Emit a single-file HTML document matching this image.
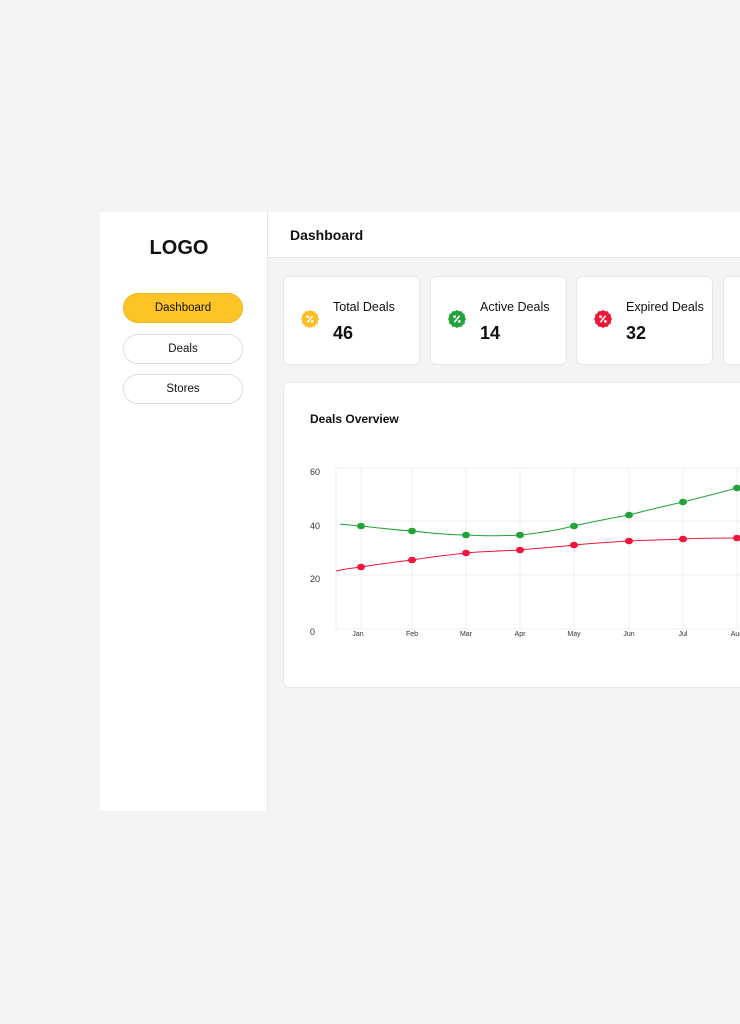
<!DOCTYPE html>
<html><head><meta charset="utf-8"><style>
*{box-sizing:border-box;margin:0;padding:0}
body{width:740px;height:1024px;background:#f3f4f6;font-family:"Liberation Sans",sans-serif;position:relative;overflow:hidden;color:#111}
.side{position:absolute;left:100px;top:212px;width:168px;height:599px;background:#fff;border-right:1px solid #e5e5e5}
.logo{position:absolute;left:0;width:158px;top:25px;text-align:center;font-weight:bold;font-size:20px}
.btn{position:absolute;left:23px;width:120px;height:30px;border-radius:15px;border:1px solid #ddd;font-size:11.5px;text-align:center;line-height:28px;background:#fff}
.head{position:absolute;left:268px;top:212px;width:472px;height:46px;background:#fff;border-bottom:1px solid #e6e6e6}
.head span{position:absolute;left:22px;top:15px;font-size:14px;font-weight:bold}
.card{position:absolute;top:276px;width:137px;height:89px;background:#fff;border:1px solid #e8e8e8;border-radius:6px}
.card .t{position:absolute;left:49px;top:23px;font-size:12.5px}
.card .n{position:absolute;left:49px;top:46px;font-size:18px;font-weight:bold}
.card svg{position:absolute;left:16px;top:32px}
.chart{position:absolute;left:283px;top:382px;width:470px;height:306px;background:#fff;border:1px solid #e8e8e8;border-radius:6px}
</style></head><body>
<div class="side">
<div class="logo">LOGO</div>
<div class="btn" style="top:81px;background:#fcc424;border-color:#f0b820">Dashboard</div>
<div class="btn" style="top:122px">Deals</div>
<div class="btn" style="top:162px">Stores</div>
</div>
<div class="head"><span>Dashboard</span></div>
<svg width="0" height="0" style="position:absolute"><defs>
<g id="b"><circle cx="10" cy="10" r="8.3"/><rect x="3.5" y="3.5" width="13" height="13" transform="rotate(15 10 10)"/><rect x="3.5" y="3.5" width="13" height="13" transform="rotate(45 10 10)"/><rect x="3.5" y="3.5" width="13" height="13" transform="rotate(75 10 10)"/></g>
<g id="p" fill="#fff"><circle cx="7.6" cy="7.6" r="1.4"/><circle cx="12.4" cy="12.4" r="1.4"/><line x1="12.6" y1="6.8" x2="7.4" y2="13.2" stroke="#fff" stroke-width="1.6"/></g>
</defs></svg>
<div class="card" style="left:283px"><svg width="20" height="20"><use href="#b" fill="#fcbd24"/><use href="#p"/></svg><div class="t">Total Deals</div><div class="n">46</div></div>
<div class="card" style="left:430px"><svg width="20" height="20"><use href="#b" fill="#22a23a"/><use href="#p"/></svg><div class="t">Active Deals</div><div class="n">14</div></div>
<div class="card" style="left:576px"><svg width="20" height="20"><use href="#b" fill="#f0153a"/><use href="#p"/></svg><div class="t">Expired Deals</div><div class="n">32</div></div>
<div class="card" style="left:723px"></div>
<div class="chart"></div>
<svg style="position:absolute;left:0;top:0" width="740" height="1024" font-family="Liberation Sans, sans-serif">
<text x="310" y="423" font-size="12" font-weight="bold" fill="#111">Deals Overview</text>
<g stroke="#efefef" stroke-width="1">
<line x1="336" y1="468" x2="740" y2="468"/><line x1="336" y1="521" x2="740" y2="521"/><line x1="336" y1="575" x2="740" y2="575"/><line x1="336" y1="629" x2="740" y2="629"/>
<line x1="336" y1="468" x2="336" y2="629"/><line x1="361" y1="468" x2="361" y2="629"/><line x1="412" y1="468" x2="412" y2="629"/><line x1="466" y1="468" x2="466" y2="629"/><line x1="520" y1="468" x2="520" y2="629"/><line x1="574" y1="468" x2="574" y2="629"/><line x1="629" y1="468" x2="629" y2="629"/><line x1="683" y1="468" x2="683" y2="629"/><line x1="737" y1="468" x2="737" y2="629"/>
</g>
<g font-size="9" fill="#333"><text x="310" y="475">60</text><text x="310" y="529">40</text><text x="310" y="582">20</text><text x="310" y="635">0</text></g>
<g font-size="7" fill="#333" text-anchor="middle"><text x="358" y="636">Jan</text><text x="412" y="636">Feb</text><text x="466" y="636">Mar</text><text x="520" y="636">Apr</text><text x="574" y="636">May</text><text x="629" y="636">Jun</text><text x="683" y="636">Jul</text><text x="737" y="636">Aug</text></g>
<path d="M340,524 C350,525 355,526 361,526 C380,528 395,530 412,531 C430,533 448,535 466,535 C485,536 505,536 520,535 C540,533 558,530 574,526 C595,521 612,518 629,515 C648,510 665,506 683,502 C702,497 720,493 740,487" fill="none" stroke="#22a23a" stroke-width="1"/>
<path d="M336,571 C345,569 352,568 361,567 C380,564 395,562 412,560 C430,557 448,555 466,553 C485,551 505,551 520,550 C540,548 558,547 574,545 C595,543 612,542 629,541 C648,540 665,540 683,539 C702,538 720,538 740,538" fill="none" stroke="#f0153a" stroke-width="1"/>
<g fill="#22a23a"><ellipse cx="361" cy="526" rx="4" ry="3.3"/><ellipse cx="412" cy="531" rx="4" ry="3.3"/><ellipse cx="466" cy="535" rx="4" ry="3.3"/><ellipse cx="520" cy="535" rx="4" ry="3.3"/><ellipse cx="574" cy="526" rx="4" ry="3.3"/><ellipse cx="629" cy="515" rx="4" ry="3.3"/><ellipse cx="683" cy="502" rx="4" ry="3.3"/><ellipse cx="737" cy="488" rx="4" ry="3.3"/></g>
<g fill="#f0153a"><ellipse cx="361" cy="567" rx="4" ry="3.3"/><ellipse cx="412" cy="560" rx="4" ry="3.3"/><ellipse cx="466" cy="553" rx="4" ry="3.3"/><ellipse cx="520" cy="550" rx="4" ry="3.3"/><ellipse cx="574" cy="545" rx="4" ry="3.3"/><ellipse cx="629" cy="541" rx="4" ry="3.3"/><ellipse cx="683" cy="539" rx="4" ry="3.3"/><ellipse cx="737" cy="538" rx="4" ry="3.3"/></g>
</svg>
</body></html>
